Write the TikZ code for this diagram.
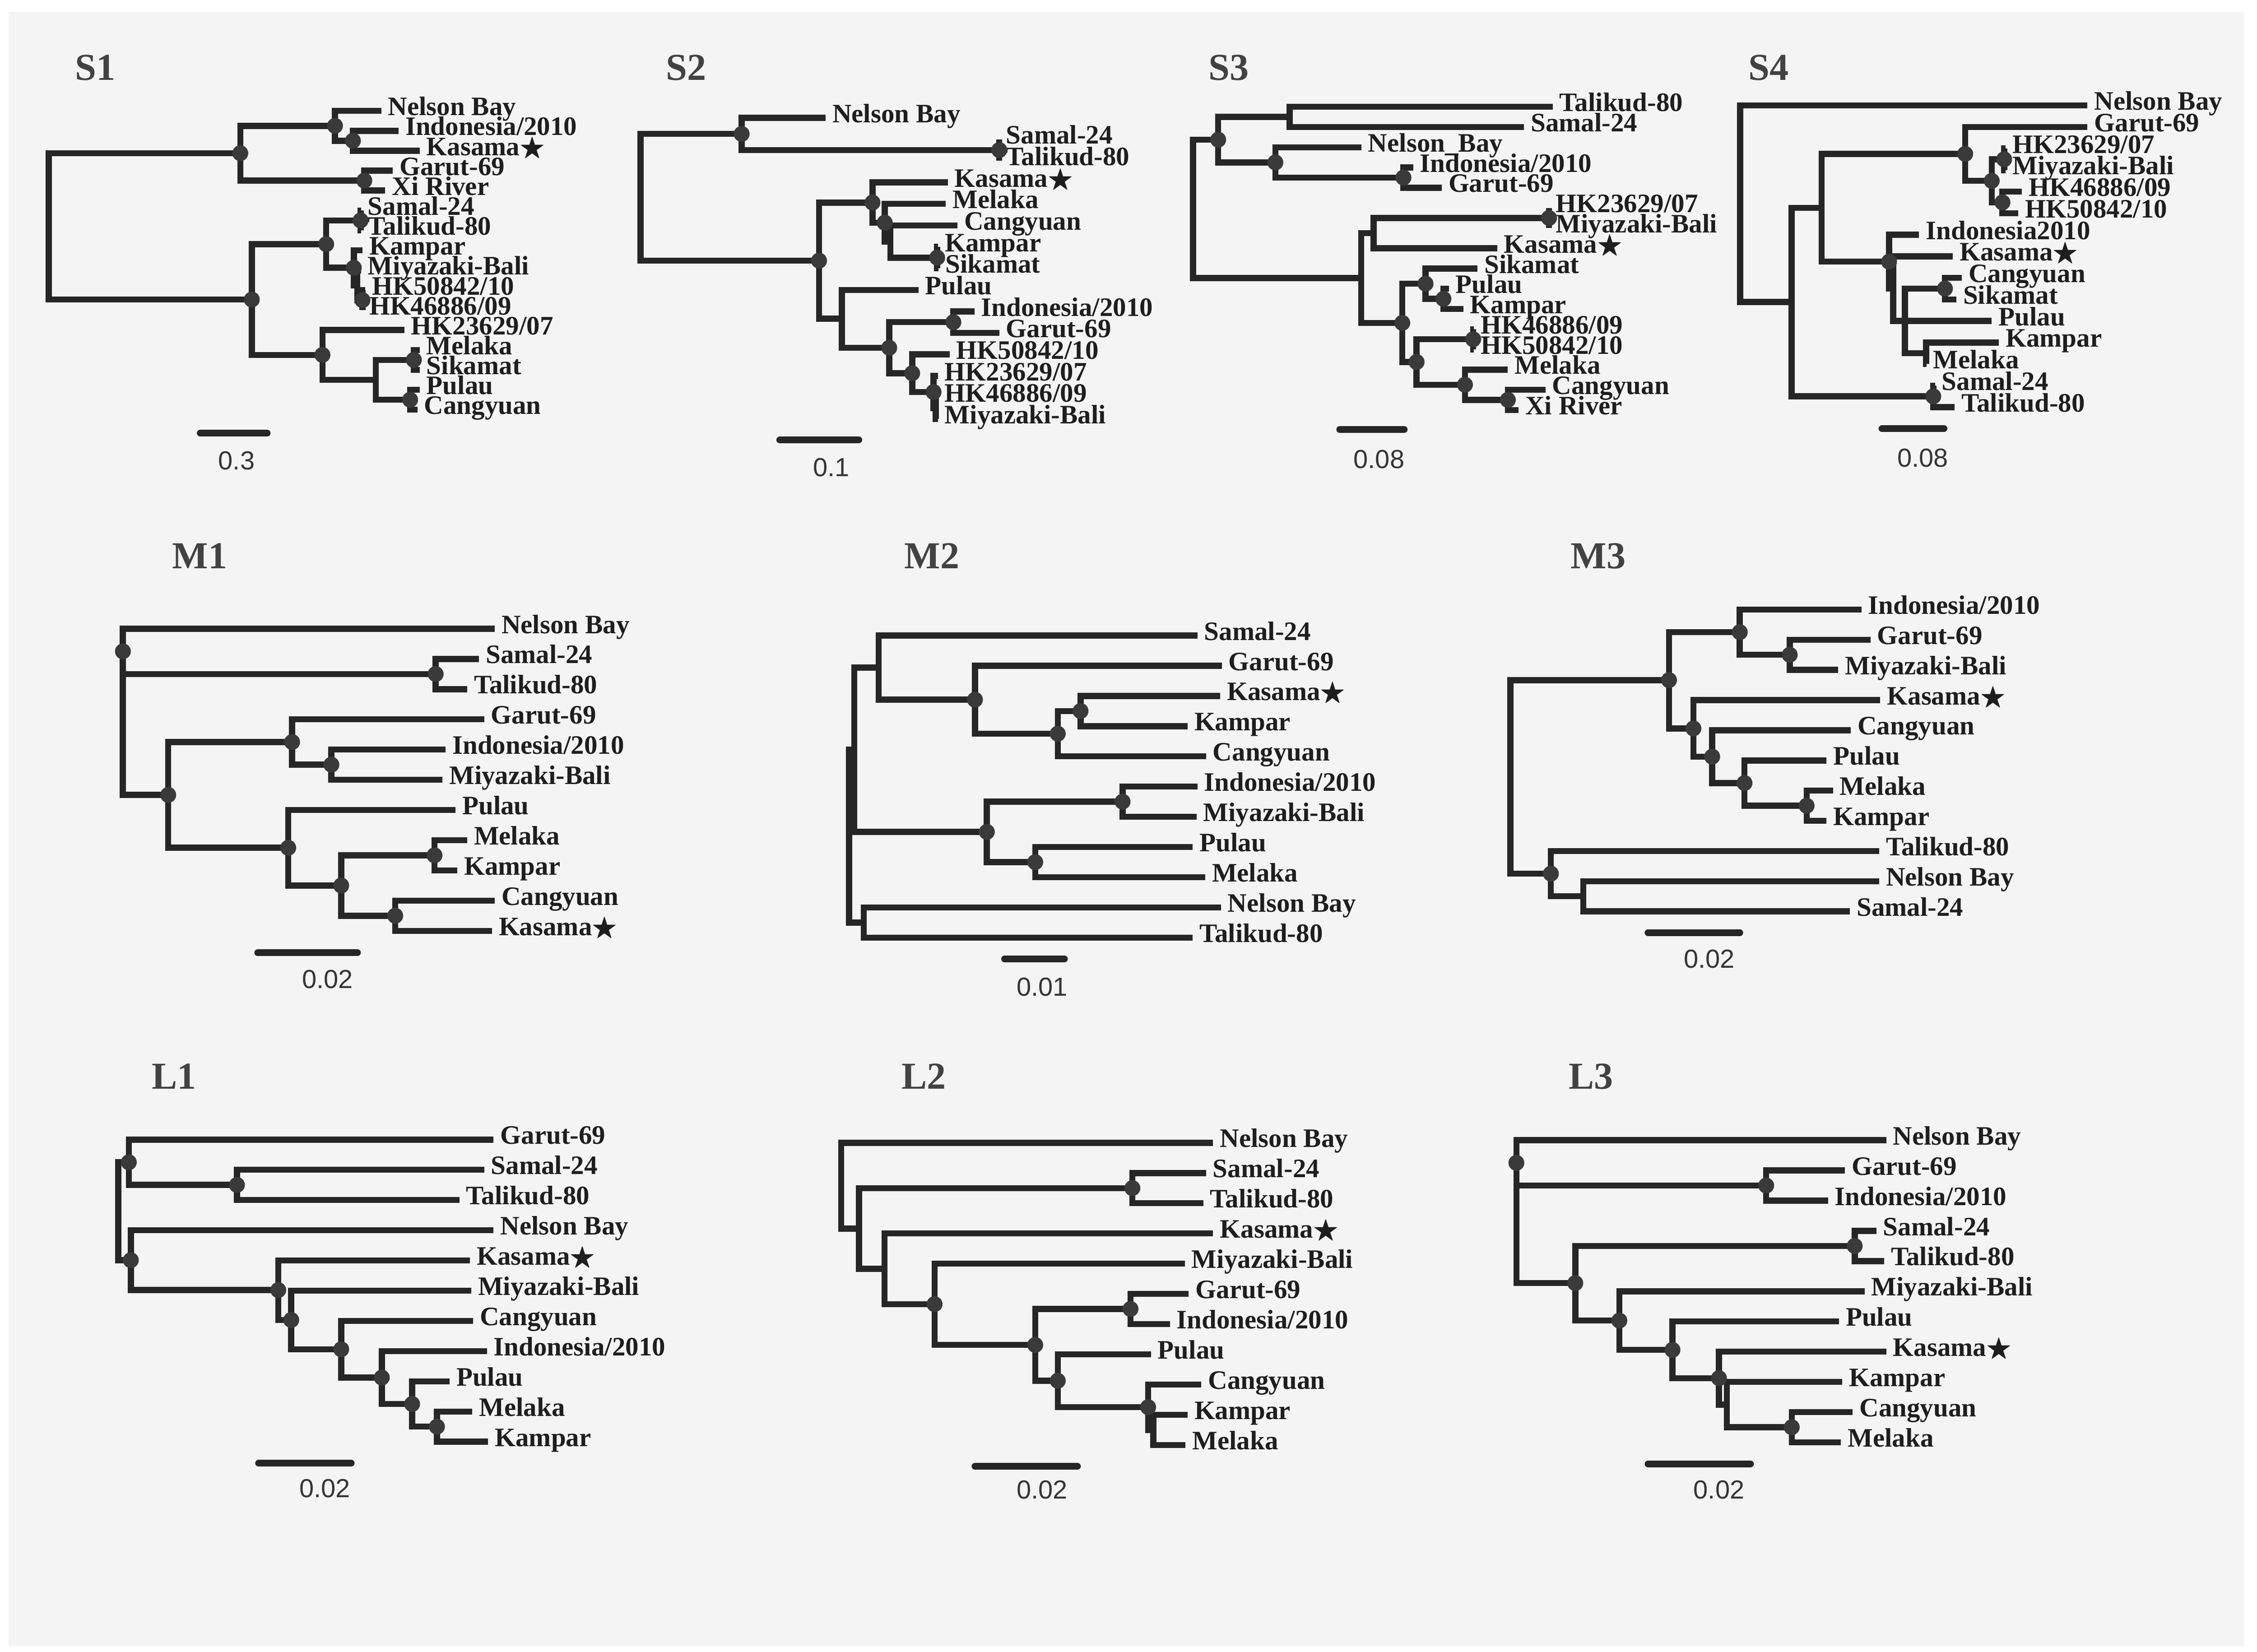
\documentclass[tikz,border=0pt]{standalone}
\usepackage{amssymb}
\usepackage{fontspec}
\setmainfont{Liberation Serif}
\newfontfamily\sansf{Liberation Sans}
\usetikzlibrary{positioning,calc}
\definecolor{bgc}{HTML}{F4F4F4}
\definecolor{lc}{HTML}{262626}
\definecolor{dc}{HTML}{3A3A3A}
\definecolor{tc}{HTML}{424242}
\definecolor{xc}{HTML}{1E1E1E}
\tikzset{
  br/.style={draw=lc,line width=2.4pt},
  leaf/.style={anchor=west,inner xsep=2.5pt,inner ysep=0pt,text height=6pt,text depth=2.4pt,
    text=xc,font=\bfseries\fontsize{10.5}{12}\selectfont},
  ttl/.style={text=tc,font=\bfseries\fontsize{15}{18}\selectfont},
  sbar/.style={draw=lc,line width=2.7pt,line cap=round},
  slab/.style={text=xc!90,font=\sansf\fontsize{10.3}{12}\selectfont},
  dotc/.style={fill=dc}
}
\newcommand{\ks}{Kasama$\bigstar$}
\begin{document}
\begin{tikzpicture}[x=0.02cm,y=-0.02cm]
\useasboundingbox (0,0) rectangle (1563,1144);
\fill[white] (0,0) rectangle (1563,1144);
\fill[bgc] (6,8) rectangle (1554,1140);

% ---------------- S1
\node[ttl] (s1ttl) at (66,47) {S1};
\begin{scope}[yshift=-1.536cm,y=-0.276cm]
\foreach \x/\t [count=\i from 0] in {264/Nelson Bay,276/{Indonesia/2010},290.6/\ks,272/Garut-69,266.8/Xi River,
  250/Samal-24,250/Talikud-80,251/Kampar,250/Miyazaki-Bali,253/{HK50842/10},251/{HK46886/09},280/{HK23629/07},
  290.6/Melaka,290.6/Sikamat,290.6/Pulau,289/Cangyuan}
  \node[leaf] (s1t\i) at (\x,\i) {\t};
\coordinate (s1r) at (33.8,5.8);
\coordinate (s1A) at (166.4,2.125);
\coordinate (s1n1) at (232,0.75);
\coordinate (s1n3) at (244.4,1.5);
\coordinate (s1n2) at (252.3,3.5);
\coordinate (s1B) at (174.4,9.47);
\coordinate (s1n4) at (225.9,6.69);
\coordinate (s1n6) at (249.7,5.5);
\coordinate (s1n7) at (245,7.875);
\coordinate (s1n8) at (247.5,8.75);
\coordinate (s1n9) at (251,9.5);
\coordinate (s1n5) at (223.3,12.25);
\coordinate (s1n12) at (260.2,13.5);
\coordinate (s1n10) at (286.6,12.5);
\coordinate (s1n11) at (284,14.5);
\draw[br] (s1r) |- (s1A) (s1r) |- (s1B);
\draw[br] (s1A) |- (s1n1) (s1A) |- (s1n2);
\draw[br] (s1n1) |- (s1t0.west) (s1n1) |- (s1n3);
\draw[br] (s1n3) |- (s1t1.west) (s1n3) |- (s1t2.west);
\draw[br] (s1n2) |- (s1t3.west) (s1n2) |- (s1t4.west);
\draw[br] (s1B) |- (s1n4) (s1B) |- (s1n5);
\draw[br] (s1n4) |- (s1n6) (s1n4) |- (s1n7);
\draw[br] (s1n6) |- (s1t5.west) (s1n6) |- (s1t6.west);
\draw[br] (s1n7) |- (s1t7.west) (s1n7) |- (s1n8);
\draw[br] (s1n8) |- (s1t8.west) (s1n8) |- (s1n9);
\draw[br] (s1n9) |- (s1t9.west) (s1n9) |- (s1t10.west);
\draw[br] (s1n5) |- (s1t11.west) (s1n5) |- (s1n12);
\draw[br] (s1n12) |- (s1n10) (s1n12) |- (s1n11);
\draw[br] (s1n10) |- (s1t12.west) (s1n10) |- (s1t13.west);
\draw[br] (s1n11) |- (s1t14.west) (s1n11) |- (s1t15.west);
\end{scope}
\coordinate (s1b0) at (138.7,300);
\coordinate (s1b1) at (185,300);
\draw[sbar] (s1b0) -- (s1b1);
\node[slab] (s1lab) at (163.8,319) {0.3};

% ---------------- S2
\node[ttl] (s2ttl) at (475.3,47) {S2};
\begin{scope}[yshift=-1.632cm,y=-0.298cm]
\foreach \x/\t [count=\i from 0] in {571.7/Nelson Bay,692/Samal-24,692/Talikud-80,656.3/\ks,655/Melaka,
  663/Cangyuan,649.6/Kampar,650/Sikamat,636/Pulau,674.8/{Indonesia/2010},692/Garut-69,657.6/{HK50842/10},
  649.5/{HK23629/07},649.5/{HK46886/09},649.5/Miyazaki-Bali}
  \node[leaf] (s2t\i) at (\x,\i) {\t};
\coordinate (s2r) at (443.6,3.69);
\coordinate (s2a) at (513.6,0.75);
\coordinate (s2st) at (692,1.5);
\coordinate (s2b) at (567.2,6.64);
\coordinate (s2c) at (604.2,3.94);
\coordinate (s2e) at (612.7,4.875);
\coordinate (s2f) at (616.6,5.75);
\coordinate (s2g) at (649,6.5);
\coordinate (s2d) at (583,9.34);
\coordinate (s2h) at (615.8,10.69);
\coordinate (s2i) at (660.2,9.5);
\coordinate (s2j) at (631.7,11.875);
\coordinate (s2k) at (646.5,12.75);
\coordinate (s2k2) at (648,13.5);
\draw[br] (s2r) |- (s2a) (s2r) |- (s2b);
\draw[br] (s2a) |- (s2t0.west) (s2a) |- (s2st);
\draw[br] (s2st) |- (s2t1.west) (s2st) |- (s2t2.west);
\draw[br] (s2b) |- (s2c) (s2b) |- (s2d);
\draw[br] (s2c) |- (s2t3.west) (s2c) |- (s2e);
\draw[br] (s2e) |- (s2t4.west) (s2e) |- (s2f);
\draw[br] (s2f) |- (s2t5.west) (s2f) |- (s2g);
\draw[br] (s2g) |- (s2t6.west) (s2g) |- (s2t7.west);
\draw[br] (s2d) |- (s2t8.west) (s2d) |- (s2h);
\draw[br] (s2h) |- (s2i) (s2h) |- (s2j);
\draw[br] (s2i) |- (s2t9.west) (s2i) |- (s2t10.west);
\draw[br] (s2j) |- (s2t11.west) (s2j) |- (s2k);
\draw[br] (s2k) |- (s2t12.west) (s2k) |- (s2k2);
\draw[br] (s2k2) |- (s2t13.west) (s2k2) |- (s2t14.west);
\end{scope}
\coordinate (s2b0) at (540,304.7);
\coordinate (s2b1) at (594.7,304.7);
\draw[sbar] (s2b0) -- (s2b1);
\node[slab] (s2lab) at (575.7,323.7) {0.1};

% ---------------- S3
\node[ttl] (s3ttl) at (851,47) {S3};
\begin{scope}[yshift=-1.48cm,y=-0.28cm]
\foreach \x/\t [count=\i from 0] in {1075.2/Talikud-80,1055.4/Samal-24,942.7/Nelson\_Bay,978.6/{Indonesia/2010},
  998.4/Garut-69,1072.7/{HK23629/07},1072.7/Miyazaki-Bali,1036.8/\ks,1023.2/Sikamat,1003.3/Pulau,1013.3/Kampar,
  1020.7/{HK46886/09},1020.7/{HK50842/10},1044.2/Melaka,1070.2/Cangyuan,1051.6/Xi River}
  \node[leaf] (s3t\i) at (\x,\i) {\t};
\coordinate (s3r) at (826.2,5.05);
\coordinate (s3a) at (843.6,1.625);
\coordinate (s3b) at (893.1,0.5);
\coordinate (s3c) at (883.2,2.75);
\coordinate (s3d) at (971.9,3.5);
\coordinate (s3e) at (942.7,8.47);
\coordinate (s3f) at (951.3,6.25);
\coordinate (s3h) at (1072.7,5.5);
\coordinate (s3g) at (971.1,10.69);
\coordinate (s3i) at (987.2,8.75);
\coordinate (s3k) at (999.6,9.5);
\coordinate (s3j) at (981,12.625);
\coordinate (s3l) at (1020.2,11.5);
\coordinate (s3m) at (1014.5,13.75);
\coordinate (s3n) at (1044.2,14.5);
\draw[br] (s3r) |- (s3a) (s3r) |- (s3e);
\draw[br] (s3a) |- (s3b) (s3a) |- (s3c);
\draw[br] (s3b) |- (s3t0.west) (s3b) |- (s3t1.west);
\draw[br] (s3c) |- (s3t2.west) (s3c) |- (s3d);
\draw[br] (s3d) |- (s3t3.west) (s3d) |- (s3t4.west);
\draw[br] (s3e) |- (s3f) (s3e) |- (s3g);
\draw[br] (s3f) |- (s3h) (s3f) |- (s3t7.west);
\draw[br] (s3h) |- (s3t5.west) (s3h) |- (s3t6.west);
\draw[br] (s3g) |- (s3i) (s3g) |- (s3j);
\draw[br] (s3i) |- (s3t8.west) (s3i) |- (s3k);
\draw[br] (s3k) |- (s3t9.west) (s3k) |- (s3t10.west);
\draw[br] (s3j) |- (s3l) (s3j) |- (s3m);
\draw[br] (s3l) |- (s3t11.west) (s3l) |- (s3t12.west);
\draw[br] (s3m) |- (s3t13.west) (s3m) |- (s3n);
\draw[br] (s3n) |- (s3t14.west) (s3n) |- (s3t15.west);
\end{scope}
\coordinate (s3b0) at (927.8,297.5);
\coordinate (s3b1) at (972.4,297.5);
\draw[sbar] (s3b0) -- (s3b1);
\node[slab] (s3lab) at (955,318) {0.08};

% ---------------- S4
\node[ttl] (s4ttl) at (1224.7,47) {S4};
\begin{scope}[yshift=-1.46cm,y=-0.2986cm]
\foreach \x/\t [count=\i from 0] in {1445.6/Nelson Bay,1445.6/Garut-69,1389/{HK23629/07},1389/Miyazaki-Bali,
  1400.2/{HK46886/09},1397.7/{HK50842/10},1329/Indonesia2010,1352.3/\ks,1358.5/Cangyuan,1354.8/Sikamat,
  1379.3/Pulau,1384.2/Kampar,1334/Melaka,1340/Samal-24,1353.6/Talikud-80}
  \node[leaf] (s4t\i) at (\x,\i) {\t};
\coordinate (s4r) at (1205.1,4.56);
\coordinate (s4a) at (1240.7,9.125);
\coordinate (s4b) at (1261.5,4.75);
\coordinate (s4c) at (1338.8,13.5);
\coordinate (s4d) at (1360.9,2.25);
\coordinate (s4f) at (1379.3,3.5);
\coordinate (s4g) at (1387.9,2.5);
\coordinate (s4h) at (1386.7,4.5);
\coordinate (s4e) at (1308.2,7.25);
\coordinate (s4e2) at (1311,8.5);
\coordinate (s4i) at (1319.2,10);
\coordinate (s4k) at (1346.9,8.5);
\coordinate (s4l) at (1333.9,11.5);
\draw[br] (s4r) |- (s4t0.west) (s4r) |- (s4a);
\draw[br] (s4a) |- (s4b) (s4a) |- (s4c);
\draw[br] (s4b) |- (s4d) (s4b) |- (s4e);
\draw[br] (s4d) |- (s4t1.west) (s4d) |- (s4f);
\draw[br] (s4f) |- (s4g) (s4f) |- (s4h);
\draw[br] (s4g) |- (s4t2.west) (s4g) |- (s4t3.west);
\draw[br] (s4h) |- (s4t4.west) (s4h) |- (s4t5.west);
\draw[br] (s4e) |- (s4t6.west) (s4e) |- (s4e2);
\draw[br] (s4e2) |- (s4t7.west) (s4e2) |- (s4i);
\draw[br] (s4i) |- (s4k) (s4i) |- (s4t10.west) (s4i) |- (s4l);
\draw[br] (s4k) |- (s4t8.west) (s4k) |- (s4t9.west);
\draw[br] (s4l) |- (s4t11.west) (s4l) |- (s4t12.west);
\draw[br] (s4c) |- (s4t13.west) (s4c) |- (s4t14.west);
\end{scope}
\coordinate (s4b0) at (1303.3,296.8);
\coordinate (s4b1) at (1346.2,296.8);
\draw[sbar] (s4b0) -- (s4b1);
\node[slab] (s4lab) at (1331.5,317) {0.08};

% ---------------- M1
\node[ttl] (m1ttl) at (138.3,385) {M1};
\begin{scope}[yshift=-8.71cm,y=-0.4186cm]
\foreach \x/\t [count=\i from 0] in {342.6/Nelson Bay,331.7/Samal-24,323.5/Talikud-80,335.3/Garut-69,
  308.6/{Indonesia/2010},306.4/Miyazaki-Bali,315.4/Pulau,323.5/Melaka,316.7/Kampar,342.6/Cangyuan,340.7/\ks}
  \node[leaf] (m1t\i) at (\x,\i) {\t};
\coordinate (m1r) at (85.1,0.75);
\coordinate (m1st) at (301.7,1.5);
\coordinate (m1a) at (116.5,5.5);
\coordinate (m1b) at (202.3,3.75);
\coordinate (m1d) at (229.5,4.5);
\coordinate (m1c) at (199.6,7.25);
\coordinate (m1e) at (236.3,8.5);
\coordinate (m1f) at (300.9,7.5);
\coordinate (m1g) at (273.7,9.5);
\draw[br] (m1r) |- (m1t0.west) (m1r) |- (m1st) (m1r) |- (m1a);
\draw[br] (m1st) |- (m1t1.west) (m1st) |- (m1t2.west);
\draw[br] (m1a) |- (m1b) (m1a) |- (m1c);
\draw[br] (m1b) |- (m1t3.west) (m1b) |- (m1d);
\draw[br] (m1d) |- (m1t4.west) (m1d) |- (m1t5.west);
\draw[br] (m1c) |- (m1t6.west) (m1c) |- (m1e);
\draw[br] (m1e) |- (m1f) (m1e) |- (m1g);
\draw[br] (m1f) |- (m1t7.west) (m1f) |- (m1t8.west);
\draw[br] (m1g) |- (m1t9.west) (m1g) |- (m1t10.west);
\end{scope}
\coordinate (m1b0) at (178.5,659.8);
\coordinate (m1b1) at (247.5,659.8);
\draw[sbar] (m1b0) -- (m1b1);
\node[slab] (m1lab) at (226.8,678.1) {0.02};

% ---------------- M2
\node[ttl] (m2ttl) at (645.3,385) {M2};
\begin{scope}[yshift=-8.804cm,y=-0.4186cm]
\foreach \x/\t [count=\i from 0] in {829.2/Samal-24,846.1/Garut-69,845/\ks,822.4/Kampar,835.2/Cangyuan,
  829.2/{Indonesia/2010},828.6/Miyazaki-Bali,825.9/Pulau,834.6/Melaka,845.5/Nelson Bay,825.9/Talikud-80}
  \node[leaf] (m2t\i) at (\x,\i) {\t};
\coordinate (m2r) at (588,6.64);
\coordinate (m2r1) at (591.6,3.78);
\coordinate (m2r2) at (608.5,1.06);
\coordinate (m2m) at (675.2,2.125);
\coordinate (m2n) at (732.5,3.25);
\coordinate (m2o) at (748.3,2.5);
\coordinate (m2p) at (683.4,6.5);
\coordinate (m2q) at (777.4,5.5);
\coordinate (m2s) at (716.9,7.5);
\coordinate (m2r3) at (598.1,9.5);
\draw[br] (m2r) |- (m2r1) (m2r) |- (m2r3);
\draw[br] (m2r1) |- (m2r2) (m2r1) |- (m2p);
\draw[br] (m2r2) |- (m2t0.west) (m2r2) |- (m2m);
\draw[br] (m2m) |- (m2t1.west) (m2m) |- (m2n);
\draw[br] (m2n) |- (m2o) (m2n) |- (m2t4.west);
\draw[br] (m2o) |- (m2t2.west) (m2o) |- (m2t3.west);
\draw[br] (m2p) |- (m2q) (m2p) |- (m2s);
\draw[br] (m2q) |- (m2t5.west) (m2q) |- (m2t6.west);
\draw[br] (m2s) |- (m2t7.west) (m2s) |- (m2t8.west);
\draw[br] (m2r3) |- (m2t9.west) (m2r3) |- (m2t10.west);
\end{scope}
\coordinate (m2b0) at (695.7,664.1);
\coordinate (m2b1) at (737.1,664.1);
\draw[sbar] (m2b0) -- (m2b1);
\node[slab] (m2lab) at (721.6,683.4) {0.01};

% ---------------- M3
\node[ttl] (m3ttl) at (1106.7,385) {M3};
\begin{scope}[yshift=-8.444cm,y=-0.4182cm]
\foreach \x/\t [count=\i from 0] in {1289/{Indonesia/2010},1295.3/Garut-69,1273/Miyazaki-Bali,1302.1/\ks,
  1281.7/Cangyuan,1264.8/Pulau,1269.4/Melaka,1264.8/Kampar,1301.3/Talikud-80,1301.3/Nelson Bay,1281.1/Samal-24}
  \node[leaf] (m3t\i) at (\x,\i) {\t};
\coordinate (m3r) at (1046,5.55);
\coordinate (m3a) at (1155.8,2.34);
\coordinate (m3b) at (1204.8,0.75);
\coordinate (m3c) at (1239.4,1.5);
\coordinate (m3d) at (1172.7,3.94);
\coordinate (m3e) at (1185.7,4.875);
\coordinate (m3f) at (1208.1,5.75);
\coordinate (m3g) at (1251.1,6.5);
\coordinate (m3h) at (1074,8.75);
\coordinate (m3i) at (1096.4,9.5);
\draw[br] (m3r) |- (m3a) (m3r) |- (m3h);
\draw[br] (m3a) |- (m3b) (m3a) |- (m3d);
\draw[br] (m3b) |- (m3t0.west) (m3b) |- (m3c);
\draw[br] (m3c) |- (m3t1.west) (m3c) |- (m3t2.west);
\draw[br] (m3d) |- (m3t3.west) (m3d) |- (m3e);
\draw[br] (m3e) |- (m3t4.west) (m3e) |- (m3f);
\draw[br] (m3f) |- (m3t5.west) (m3f) |- (m3g);
\draw[br] (m3g) |- (m3t6.west) (m3g) |- (m3t7.west);
\draw[br] (m3h) |- (m3t8.west) (m3h) |- (m3i);
\draw[br] (m3i) |- (m3t9.west) (m3i) |- (m3t10.west);
\end{scope}
\coordinate (m3b0) at (1141.3,645.9);
\coordinate (m3b1) at (1204.8,645.9);
\draw[sbar] (m3b0) -- (m3b1);
\node[slab] (m3lab) at (1183.6,664.1) {0.02};

% ---------------- L1
\node[ttl] (l1ttl) at (120.5,745.4) {L1};
\begin{scope}[yshift=-15.788cm,y=-0.4186cm]
\foreach \x/\t [count=\i from 0] in {341.8/Garut-69,335.3/Samal-24,318.1/Talikud-80,341.8/Nelson Bay,
  325.4/\ks,326.3/Miyazaki-Bali,327.6/Cangyuan,337.2/{Indonesia/2010},311.3/Pulau,327.1/Melaka,338/Kampar}
  \node[leaf] (l1t\i) at (\x,\i) {\t};
\coordinate (l1r) at (81.9,2.37);
\coordinate (l1a) at (89.2,0.75);
\coordinate (l1b) at (164.1,1.5);
\coordinate (l1c) at (90.6,3.99);
\coordinate (l1d) at (192.7,4.98);
\coordinate (l1e) at (201.7,5.97);
\coordinate (l1f) at (236.3,6.94);
\coordinate (l1g) at (264.4,7.875);
\coordinate (l1h) at (285.4,8.75);
\coordinate (l1i) at (302.6,9.5);
\draw[br] (l1r) |- (l1a) (l1r) |- (l1c);
\draw[br] (l1a) |- (l1t0.west) (l1a) |- (l1b);
\draw[br] (l1b) |- (l1t1.west) (l1b) |- (l1t2.west);
\draw[br] (l1c) |- (l1t3.west) (l1c) |- (l1d);
\draw[br] (l1d) |- (l1t4.west) (l1d) |- (l1e);
\draw[br] (l1e) |- (l1t5.west) (l1e) |- (l1f);
\draw[br] (l1f) |- (l1t6.west) (l1f) |- (l1g);
\draw[br] (l1g) |- (l1t7.west) (l1g) |- (l1h);
\draw[br] (l1h) |- (l1t8.west) (l1h) |- (l1i);
\draw[br] (l1i) |- (l1t9.west) (l1i) |- (l1t10.west);
\end{scope}
\coordinate (l1b0) at (179.1,1013.3);
\coordinate (l1b1) at (243.2,1013.3);
\draw[sbar] (l1b0) -- (l1b1);
\node[slab] (l1lab) at (224.9,1030.9) {0.02};

% ---------------- L2
\node[ttl] (l2ttl) at (639.8,745.4) {L2};
\begin{scope}[yshift=-15.832cm,y=-0.4186cm]
\foreach \x/\t [count=\i from 0] in {840.1/Nelson Bay,835.2/Samal-24,833.3/Talikud-80,840.1/\ks,
  820.5/Miyazaki-Bali,823.2/Garut-69,810.1/{Indonesia/2010},797/Pulau,831.9/Cangyuan,822.4/Kampar,821/Melaka}
  \node[leaf] (l2t\i) at (\x,\i) {\t};
\coordinate (l2r) at (582.6,1.42);
\coordinate (l2a) at (594.8,2.84);
\coordinate (l2b) at (784.2,1.5);
\coordinate (l2c) at (612.6,4.17);
\coordinate (l2d) at (647.2,5.34);
\coordinate (l2e) at (716.9,6.69);
\coordinate (l2f) at (782.9,5.5);
\coordinate (l2g) at (732.5,7.875);
\coordinate (l2h) at (795.1,8.75);
\coordinate (l2h2) at (798.7,9.5);
\draw[br] (l2r) |- (l2t0.west) (l2r) |- (l2a);
\draw[br] (l2a) |- (l2b) (l2a) |- (l2c);
\draw[br] (l2b) |- (l2t1.west) (l2b) |- (l2t2.west);
\draw[br] (l2c) |- (l2t3.west) (l2c) |- (l2d);
\draw[br] (l2d) |- (l2t4.west) (l2d) |- (l2e);
\draw[br] (l2e) |- (l2f) (l2e) |- (l2g);
\draw[br] (l2f) |- (l2t5.west) (l2f) |- (l2t6.west);
\draw[br] (l2g) |- (l2t7.west) (l2g) |- (l2h);
\draw[br] (l2h) |- (l2t8.west) (l2h) |- (l2h2);
\draw[br] (l2h2) |- (l2t9.west) (l2h2) |- (l2t10.west);
\end{scope}
\coordinate (l2b0) at (675.2,1015.5);
\coordinate (l2b1) at (746.1,1015.5);
\draw[sbar] (l2b0) -- (l2b1);
\node[slab] (l2lab) at (721.6,1031.6) {0.02};

% ---------------- L3
\node[ttl] (l3ttl) at (1101.8,745.4) {L3};
\begin{scope}[yshift=-15.796cm,y=-0.4186cm]
\foreach \x/\t [count=\i from 0] in {1306.2/Nelson Bay,1277.6/Garut-69,1265.9/{Indonesia/2010},1299.4/Samal-24,
  1304.8/Talikud-80,1291.2/Miyazaki-Bali,1273.5/Pulau,1306.2/\ks,1275.7/Kampar,1283/Cangyuan,1274.9/Melaka}
  \node[leaf] (l3t\i) at (\x,\i) {\t};
\coordinate (l3r) at (1050.1,0.75);
\coordinate (l3a) at (1223.1,1.5);
\coordinate (l3b) at (1090.9,4.73);
\coordinate (l3c) at (1284.4,3.5);
\coordinate (l3d) at (1121.4,5.97);
\coordinate (l3e) at (1158.2,6.94);
\coordinate (l3f) at (1190.4,7.875);
\coordinate (l3g) at (1195.8,8.75);
\coordinate (l3h) at (1240.8,9.5);
\draw[br] (l3r) |- (l3t0.west) (l3r) |- (l3a) (l3r) |- (l3b);
\draw[br] (l3a) |- (l3t1.west) (l3a) |- (l3t2.west);
\draw[br] (l3b) |- (l3c) (l3b) |- (l3d);
\draw[br] (l3c) |- (l3t3.west) (l3c) |- (l3t4.west);
\draw[br] (l3d) |- (l3t5.west) (l3d) |- (l3e);
\draw[br] (l3e) |- (l3t6.west) (l3e) |- (l3f);
\draw[br] (l3f) |- (l3t7.west) (l3f) |- (l3g);
\draw[br] (l3g) |- (l3t8.west) (l3g) |- (l3h);
\draw[br] (l3h) |- (l3t9.west) (l3h) |- (l3t10.west);
\end{scope}
\coordinate (l3b0) at (1141.3,1013.8);
\coordinate (l3b1) at (1212.2,1013.8);
\draw[sbar] (l3b0) -- (l3b1);
\node[slab] (l3lab) at (1190.4,1031.6) {0.02};

% support dots
\foreach \n in {s1A,s1n1,s1n3,s1n2,s1n6,s1n4,s1n7,s1n9,s1B,s1n5,s1n10,s1n11,
  s2a,s2st,s2c,s2e,s2g,s2b,s2i,s2h,s2j,s2k,
  s3a,s3c,s3d,s3h,s3i,s3k,s3g,s3l,s3j,s3m,s3n,
  s4d,s4g,s4f,s4h,s4e,s4k,s4c,
  m1r,m1st,m1a,m1b,m1d,m1c,m1e,m1f,m1g,
  m2m,m2n,m2o,m2p,m2q,m2s,
  m3a,m3b,m3c,m3d,m3e,m3f,m3g,m3h,
  l1a,l1b,l1c,l1d,l1e,l1f,l1g,l1h,l1i,
  l2b,l2d,l2e,l2f,l2g,l2h,
  l3r,l3a,l3b,l3c,l3d,l3e,l3f,l3h}
  \fill[dotc] (\n) circle[radius=0.11cm];
\end{tikzpicture}
\end{document}
